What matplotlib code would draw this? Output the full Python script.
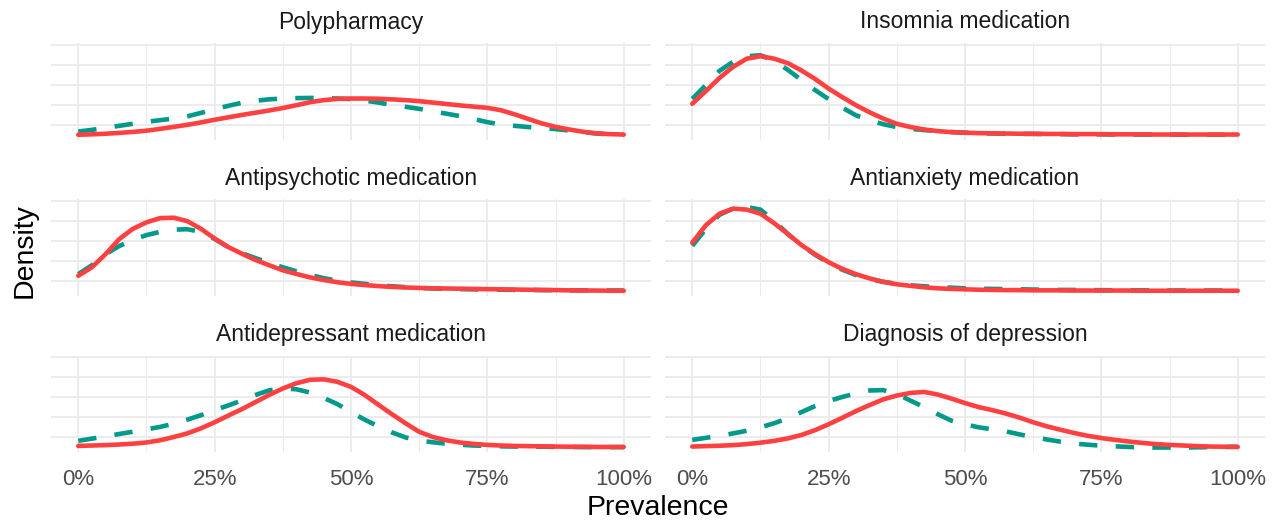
import matplotlib
matplotlib.use("Agg")
import matplotlib.pyplot as plt

plt.rcParams['font.family'] = ['Liberation Sans', 'DejaVu Sans']

prevalence = [0, 2.5, 5, 7.5, 10, 12.5, 15, 17.5, 20, 22.5,
              25, 27.5, 30, 32.5, 35, 37.5, 40, 42.5, 45, 47.5,
              50, 52.5, 55, 57.5, 60, 62.5, 65, 67.5, 70, 72.5,
              75, 77.5, 80, 82.5, 85, 87.5, 90, 92.5, 95, 97.5, 100]

titles = ["Polypharmacy", "Insomnia medication",
          "Antipsychotic medication", "Antianxiety medication",
          "Antidepressant medication", "Diagnosis of depression"]

# dashed (teal) curves
poly_dashed = [0.20, 0.28, 0.38, 0.48, 0.58, 0.68, 0.76, 0.84, 0.95, 1.12,
               1.30, 1.47, 1.62, 1.72, 1.79, 1.83, 1.85, 1.86, 1.85, 1.83,
               1.80, 1.73, 1.63, 1.52, 1.42, 1.32, 1.20, 1.08, 0.96, 0.82,
               0.66, 0.55, 0.48, 0.42, 0.37, 0.32, 0.25, 0.17, 0.10, 0.06, 0.04]
insom_dashed = [1.81, 2.50, 3.20, 3.65, 3.92, 3.97, 3.70, 3.25, 2.75, 2.25,
                1.80, 1.38, 1.00, 0.76, 0.56, 0.42, 0.33, 0.27, 0.22, 0.17,
                0.14, 0.12, 0.10, 0.09, 0.08, 0.08, 0.07, 0.07, 0.06, 0.06,
                0.06, 0.05, 0.05, 0.05, 0.05, 0.05, 0.04, 0.04, 0.04, 0.04, 0.04]
psych_dashed = [0.86, 1.30, 1.85, 2.25, 2.55, 2.79, 2.95, 3.06, 3.08, 2.95,
                2.60, 2.20, 1.90, 1.65, 1.42, 1.20, 1.00, 0.82, 0.66, 0.54,
                0.45, 0.38, 0.31, 0.26, 0.22, 0.18, 0.15, 0.13, 0.12, 0.11,
                0.10, 0.09, 0.08, 0.08, 0.07, 0.07, 0.06, 0.06, 0.05, 0.05, 0.05]
anx_dashed = [2.26, 3.10, 3.80, 4.10, 4.18, 4.05, 3.50, 2.85, 2.30, 1.82,
              1.42, 1.08, 0.82, 0.63, 0.48, 0.38, 0.31, 0.26, 0.22, 0.19,
              0.16, 0.14, 0.13, 0.12, 0.11, 0.10, 0.09, 0.08, 0.08, 0.07,
              0.07, 0.06, 0.06, 0.06, 0.05, 0.05, 0.05, 0.05, 0.05, 0.05, 0.05]
dep_med_dashed = [0.33, 0.44, 0.55, 0.67, 0.78, 0.90, 1.02, 1.18, 1.38, 1.60,
                  1.85, 2.08, 2.33, 2.60, 2.83, 2.92, 2.88, 2.72, 2.45, 2.15,
                  1.75, 1.38, 1.05, 0.75, 0.50, 0.35, 0.26, 0.19, 0.14, 0.10,
                  0.08, 0.06, 0.05, 0.04, 0.04, 0.03, 0.03, 0.02, 0.02, 0.02, 0.02]
dep_diag_dashed = [0.38, 0.48, 0.58, 0.70, 0.83, 1.00, 1.20, 1.45, 1.75, 2.05,
                   2.30, 2.50, 2.68, 2.82, 2.84, 2.65, 2.32, 2.00, 1.65, 1.33,
                   1.15, 1.00, 0.90, 0.80, 0.65, 0.52, 0.40, 0.29, 0.20, 0.14,
                   0.09, 0.06, 0.03, 0.01, 0.00, 0.00, 0.00, 0.01, 0.02, 0.03, 0.04]

# solid (red) curves
poly_solid = [0.04, 0.06, 0.09, 0.13, 0.18, 0.24, 0.33, 0.43, 0.53, 0.65,
              0.78, 0.90, 1.02, 1.13, 1.24, 1.36, 1.50, 1.65, 1.75, 1.81,
              1.83, 1.83, 1.82, 1.79, 1.75, 1.70, 1.63, 1.56, 1.49, 1.43,
              1.37, 1.25, 1.05, 0.82, 0.60, 0.43, 0.30, 0.19, 0.11, 0.07, 0.05]
insom_solid = [1.57, 2.20, 2.85, 3.40, 3.80, 3.92, 3.80, 3.58, 3.22, 2.80,
               2.32, 1.90, 1.50, 1.15, 0.84, 0.58, 0.42, 0.30, 0.22, 0.17,
               0.14, 0.12, 0.11, 0.10, 0.09, 0.09, 0.08, 0.08, 0.07, 0.07,
               0.07, 0.06, 0.06, 0.06, 0.05, 0.05, 0.05, 0.05, 0.05, 0.05, 0.05]
psych_solid = [0.78, 1.20, 1.85, 2.59, 3.10, 3.42, 3.63, 3.65, 3.48, 3.10,
               2.62, 2.20, 1.87, 1.56, 1.30, 1.05, 0.87, 0.70, 0.57, 0.46,
               0.38, 0.32, 0.27, 0.23, 0.20, 0.18, 0.16, 0.15, 0.14, 0.13,
               0.12, 0.11, 0.10, 0.09, 0.08, 0.07, 0.06, 0.05, 0.05, 0.04, 0.04]
anx_solid = [2.42, 3.28, 3.85, 4.10, 4.05, 3.85, 3.38, 2.85, 2.30, 1.85,
             1.45, 1.12, 0.86, 0.65, 0.48, 0.36, 0.28, 0.21, 0.16, 0.13,
             0.11, 0.09, 0.08, 0.07, 0.07, 0.06, 0.06, 0.06, 0.05, 0.05,
             0.05, 0.05, 0.05, 0.04, 0.04, 0.04, 0.04, 0.04, 0.04, 0.04, 0.04]
dep_med_solid = [0.08, 0.10, 0.12, 0.15, 0.19, 0.25, 0.36, 0.52, 0.70, 0.95,
                 1.25, 1.58, 1.90, 2.25, 2.60, 2.92, 3.18, 3.35, 3.37, 3.25,
                 3.00, 2.60, 2.12, 1.65, 1.20, 0.78, 0.52, 0.36, 0.25, 0.18,
                 0.13, 0.10, 0.08, 0.07, 0.06, 0.05, 0.04, 0.04, 0.03, 0.03, 0.03]
dep_diag_solid = [0.05, 0.07, 0.09, 0.12, 0.17, 0.24, 0.33, 0.45, 0.62, 0.86,
                  1.15, 1.47, 1.80, 2.10, 2.38, 2.57, 2.70, 2.75, 2.62, 2.42,
                  2.20, 2.00, 1.85, 1.68, 1.48, 1.25, 1.05, 0.88, 0.72, 0.58,
                  0.47, 0.38, 0.30, 0.23, 0.17, 0.13, 0.10, 0.07, 0.05, 0.04, 0.03]

dashed_series = [poly_dashed, insom_dashed, psych_dashed,
                 anx_dashed, dep_med_dashed, dep_diag_dashed]
solid_series = [poly_solid, insom_solid, psych_solid,
                anx_solid, dep_med_solid, dep_diag_solid]

x_ticks = [0, 25, 50, 75, 100]
x_labels = ["0%", "25%", "50%", "75%", "100%"]

TEAL = "#00998A"
RED = "#FF4040"
GRID = "#EBEBEB"

W, H = 1277, 525
fig = plt.figure(figsize=(W / 100, H / 100), dpi=100)

col_left = [51, 665]
row_top = [43.5, 199.5, 355.5]
title_y = [22, 178, 334]
pw, ph = 600, 96.5

for i, (title, dsh, sol) in enumerate(zip(titles, dashed_series, solid_series)):
    row, col = divmod(i, 2)
    ax = fig.add_axes([col_left[col] / W, 1 - (row_top[row] + ph) / H, pw / W, ph / H])
    ax.set_xlim(-5, 105)
    ax.set_ylim(-0.22, 4.55)

    ax.set_xticks(x_ticks)
    ax.set_xticks([12.5, 37.5, 62.5, 87.5], minor=True)
    ax.set_yticks([0.5, 1.5, 2.5, 3.5, 4.5])
    ax.grid(which="major", color=GRID, lw=1.3)
    ax.grid(which="minor", axis="x", color=GRID, lw=0.7)
    ax.set_axisbelow(True)
    ax.tick_params(which="both", length=0)
    ax.tick_params(axis="y", labelleft=False)
    if row == 2:
        ax.set_xticklabels(x_labels, fontsize=16, color="#4D4D4D")
        ax.tick_params(axis="x", pad=12)
    else:
        ax.tick_params(axis="x", labelbottom=False)
    for s in ax.spines.values():
        s.set_visible(False)

    ax.plot(prevalence, dsh, color=TEAL, lw=3.3, ls=(0, (4, 4)),
            dash_capstyle="butt")
    ax.plot(prevalence, sol, color=RED, lw=3.3, solid_capstyle="round")

    fig.text((col_left[col] + pw / 2) / W, 1 - title_y[row] / H, title,
             ha="center", va="center", fontsize=16.5, color="#1A1A1A")

fig.text(25 / W, 1 - 251 / H, "Density", rotation=90, ha="center", va="center",
         fontsize=20.5, color="black")
fig.text(658 / W, 1 - 508 / H, "Prevalence", ha="center", va="center",
         fontsize=20.5, color="black")

fig.savefig("out.png", dpi=100, facecolor="white")
